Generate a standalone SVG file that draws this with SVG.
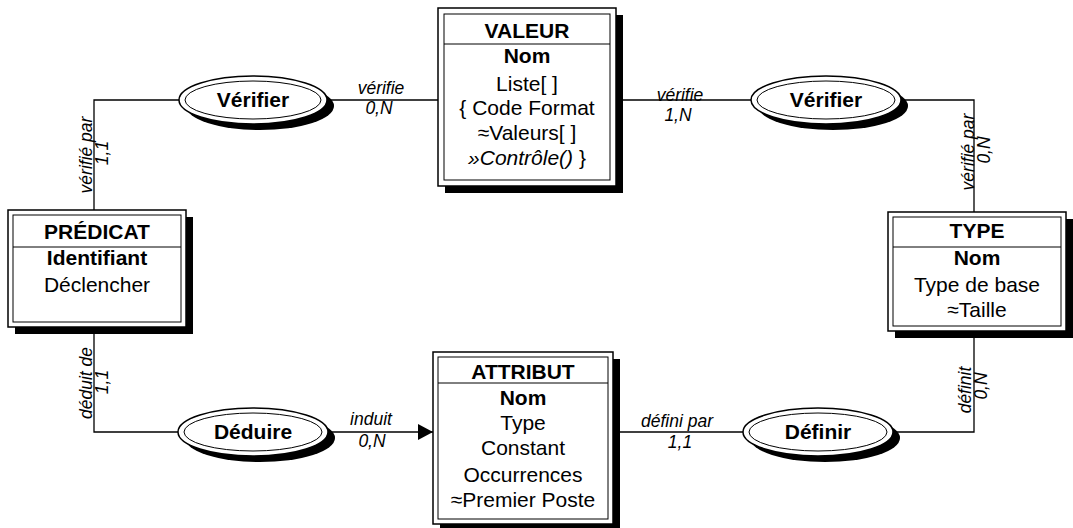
<svg xmlns="http://www.w3.org/2000/svg" width="1073" height="528" viewBox="0 0 1073 528">
<style>
text{font-family:"Liberation Sans",Arial,sans-serif;fill:#000}
.t{font-size:21px;text-anchor:middle}
.b{font-weight:bold}
.l{font-size:17.5px;font-style:italic;text-anchor:middle}
.sh{fill:#000}
.o{fill:#fff;stroke:#000;stroke-width:1.5}
.i{fill:none;stroke:#000;stroke-width:1}
.c{fill:none;stroke:#000;stroke-width:1.3}
</style>
<defs>
<marker id="arr" markerWidth="16" markerHeight="16" refX="15" refY="8" orient="auto" markerUnits="userSpaceOnUse">
<path d="M0,0 L15,8 L0,16 Z" fill="#000"/>
</marker>
</defs>
<rect width="1073" height="528" fill="#fff"/>
<g id="connectors">
<path class="c" d="M180,100 H94 V210"/>
<path class="c" d="M328,100 H438"/>
<path class="c" d="M616,100 H751"/>
<path class="c" d="M901,100 H974 V212"/>
<path class="c" d="M94,334 V432 H178"/>
<path class="c" d="M328,432 H433" marker-end="url(#arr)"/>
<path class="c" d="M613,432 H743"/>
<path class="c" d="M893,432 H974 V338"/>
<text class="l" x="381" y="94">vérifie</text>
<text class="l" x="379" y="114">0,N</text>
<text class="l" x="680" y="101">vérifie</text>
<text class="l" x="678" y="121">1,N</text>
<text class="l" x="371" y="425">induit</text>
<text class="l" x="372" y="447">0,N</text>
<text class="l" x="677" y="427">défini par</text>
<text class="l" x="680" y="448">1,1</text>
<text class="l" transform="translate(92,155) rotate(-90)">vérifié par</text>
<text class="l" transform="translate(108,153) rotate(-90)">1,1</text>
<text class="l" transform="translate(974,152) rotate(-90)">vérifié par</text>
<text class="l" transform="translate(990,150) rotate(-90)">0,N</text>
<text class="l" transform="translate(92,383) rotate(-90)">déduit de</text>
<text class="l" transform="translate(108,382) rotate(-90)">1,1</text>
<text class="l" transform="translate(971,390) rotate(-90)">définit</text>
<text class="l" transform="translate(987,386) rotate(-90)">0,N</text>
</g>
<g id="valeur">
<rect class="sh" x="445" y="15" width="178" height="178"/>
<rect class="o" x="438" y="8" width="178" height="178"/>
<rect class="i" x="444" y="14" width="166" height="166"/>
<line class="i" x1="444" y1="44" x2="610" y2="44"/>
<text class="t b" x="527" y="38">VALEUR</text>
<text class="t b" x="527" y="63">Nom</text>
<text class="t" x="527" y="91">Liste[ ]</text>
<text class="t" x="527" y="115">{ Code Format</text>
<text class="t" x="527" y="140">≈Valeurs[ ]</text>
<text class="t" x="527" y="165"><tspan font-style="italic">»Contrôle()</tspan> }</text>
</g>
<g id="predicat">
<rect class="sh" x="15" y="217" width="178" height="117"/>
<rect class="o" x="8" y="210" width="178" height="117"/>
<rect class="i" x="13" y="215" width="168" height="107"/>
<line class="i" x1="13" y1="247" x2="181" y2="247"/>
<text class="t b" x="97" y="239">PRÉDICAT</text>
<text class="t b" x="97" y="265">Identifiant</text>
<text class="t" x="97" y="292">Déclencher</text>
</g>
<g id="type">
<rect class="sh" x="895" y="219" width="178" height="119"/>
<rect class="o" x="888" y="212" width="178" height="119"/>
<rect class="i" x="893" y="217" width="168" height="109"/>
<line class="i" x1="893" y1="247" x2="1061" y2="247"/>
<text class="t b" x="977" y="238">TYPE</text>
<text class="t b" x="977" y="265">Nom</text>
<text class="t" x="977" y="292">Type de base</text>
<text class="t" x="977" y="317">≈Taille</text>
</g>
<g id="attribut">
<rect class="sh" x="440" y="359" width="180" height="172"/>
<rect class="o" x="433" y="352" width="180" height="172"/>
<rect class="i" x="438" y="357" width="170" height="162"/>
<line class="i" x1="438" y1="383" x2="608" y2="383"/>
<text class="t b" x="523" y="379">ATTRIBUT</text>
<text class="t b" x="523" y="405">Nom</text>
<text class="t" x="523" y="430">Type</text>
<text class="t" x="523" y="455">Constant</text>
<text class="t" x="523" y="482">Occurrences</text>
<text class="t" x="523" y="507">≈Premier Poste</text>
</g>
<g id="verifier1">
<ellipse class="sh" cx="260" cy="106" rx="74" ry="24"/>
<ellipse class="o" cx="253" cy="100" rx="74" ry="24"/>
<ellipse class="i" cx="253" cy="100" rx="68" ry="19"/>
<text class="t b" x="253" y="107">Vérifier</text>
</g>
<g id="verifier2">
<ellipse class="sh" cx="833" cy="106" rx="75" ry="24"/>
<ellipse class="o" cx="826" cy="100" rx="75" ry="24"/>
<ellipse class="i" cx="826" cy="100" rx="69" ry="19"/>
<text class="t b" x="826" y="107">Vérifier</text>
</g>
<g id="deduire">
<ellipse class="sh" cx="260" cy="438" rx="75" ry="24"/>
<ellipse class="o" cx="253" cy="432" rx="75" ry="24"/>
<ellipse class="i" cx="253" cy="432" rx="69" ry="19"/>
<text class="t b" x="253" y="439">Déduire</text>
</g>
<g id="definir">
<ellipse class="sh" cx="825" cy="438" rx="75" ry="24"/>
<ellipse class="o" cx="818" cy="432" rx="75" ry="24"/>
<ellipse class="i" cx="818" cy="432" rx="69" ry="19"/>
<text class="t b" x="818" y="439">Définir</text>
</g>
</svg>
